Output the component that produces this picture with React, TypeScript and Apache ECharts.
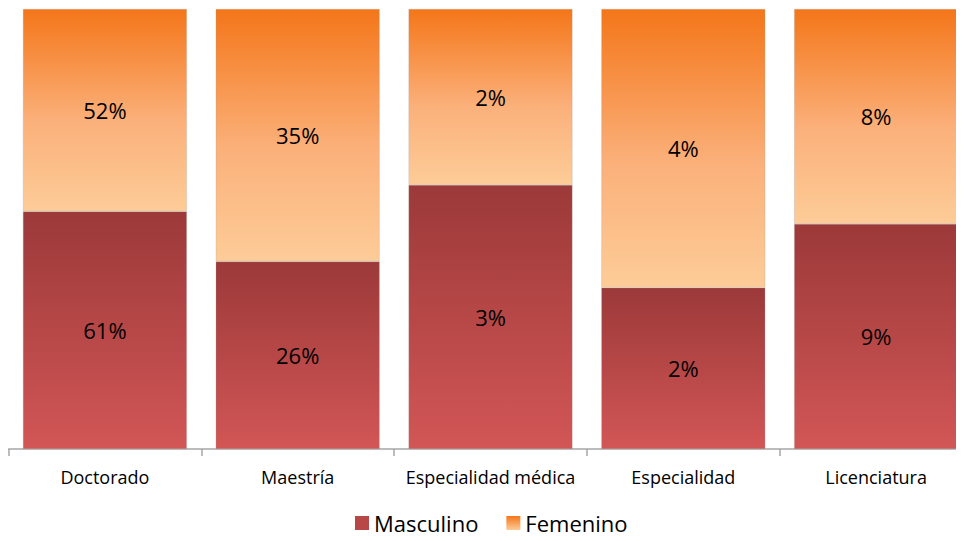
import React, { useEffect, useRef } from "react";
import * as echarts from "echarts";

const categories = ["Doctorado", "Maestría", "Especialidad médica", "Especialidad", "Licenciatura"];
const masculino = [61, 26, 3, 2.2, 8.8];
const femenino = [52, 35, 2, 3.8, 8.4];

const font = "'Open Sans', sans-serif";

export default function App() {
  const ref = useRef<HTMLDivElement>(null);
  useEffect(() => {
    if (!ref.current) return;
    const chart = echarts.init(ref.current, undefined, { renderer: "svg" });
    const totals = categories.map((_, i) => masculino[i] + femenino[i]);
    const mPct = masculino.map((v, i) => ({ value: (v / totals[i]) * 100, raw: v }));
    const fPct = femenino.map((v, i) => ({ value: (v / totals[i]) * 100, raw: v }));
    const mColor = new echarts.graphic.LinearGradient(0, 0, 0, 1, [
      { offset: 0, color: "#9C3939" },
      { offset: 1, color: "#D25656" },
    ]);
    const fColor = new echarts.graphic.LinearGradient(0, 0, 0, 1, [
      { offset: 0, color: "#F47619" },
      { offset: 0.55, color: "#FBB07A" },
      { offset: 1, color: "#FDCC98" },
    ]);
    const label = {
      show: true,
      position: "inside",
      color: "#000",
      fontSize: 22,
      fontFamily: font,
      formatter: (p: any) => Math.round(p.data.raw) + "%",
    };
    chart.setOption({
      animation: false,
      grid: { left: 8.5, right: 10.5, top: 9, bottom: 92 },
      legend: {
        top: 507,
        left: 350,
        icon: "rect",
        itemWidth: 14,
        itemHeight: 14,
        itemGap: 28,
        itemStyle: { borderWidth: 0 },
        textStyle: { fontSize: 22, fontFamily: font, color: "#000" },
        data: [
          { name: "Masculino", itemStyle: { color: "#B84848" } },
          { name: "Femenino", itemStyle: { color: new echarts.graphic.LinearGradient(0, 0, 0, 1, [
            { offset: 0, color: "#F47619" },
            { offset: 1, color: "#FDCC98" },
          ]) } },
        ],
      },
      xAxis: {
        type: "category",
        data: categories,
        axisLine: { lineStyle: { color: "#A6A6A6", width: 1.5 } },
        axisTick: { show: true, length: 7, lineStyle: { color: "#A6A6A6", width: 1.5 } },
        axisLabel: { color: "#000", fontSize: 18, fontFamily: font, margin: 19, interval: 0 },
      },
      yAxis: {
        type: "value",
        min: 0,
        max: 100,
        show: false,
      },
      series: [
        {
          name: "Masculino",
          type: "bar",
          stack: "total",
          barCategoryGap: "15%",
          data: mPct,
          itemStyle: { color: mColor, borderColor: "rgba(160,160,160,0.5)", borderWidth: 0.5 },
          label,
        },
        {
          name: "Femenino",
          type: "bar",
          stack: "total",
          barCategoryGap: "15%",
          data: fPct,
          itemStyle: { color: fColor, borderColor: "rgba(160,160,160,0.5)", borderWidth: 0.5 },
          label,
        },
      ],
    });
    return () => chart.dispose();
  }, []);
  return (
    <div style={{ width: 964, height: 541, margin: -8, overflow: "hidden", position: "relative" }}>
      <div ref={ref} style={{ width: 983, height: 541 }} />
    </div>
  );
}
